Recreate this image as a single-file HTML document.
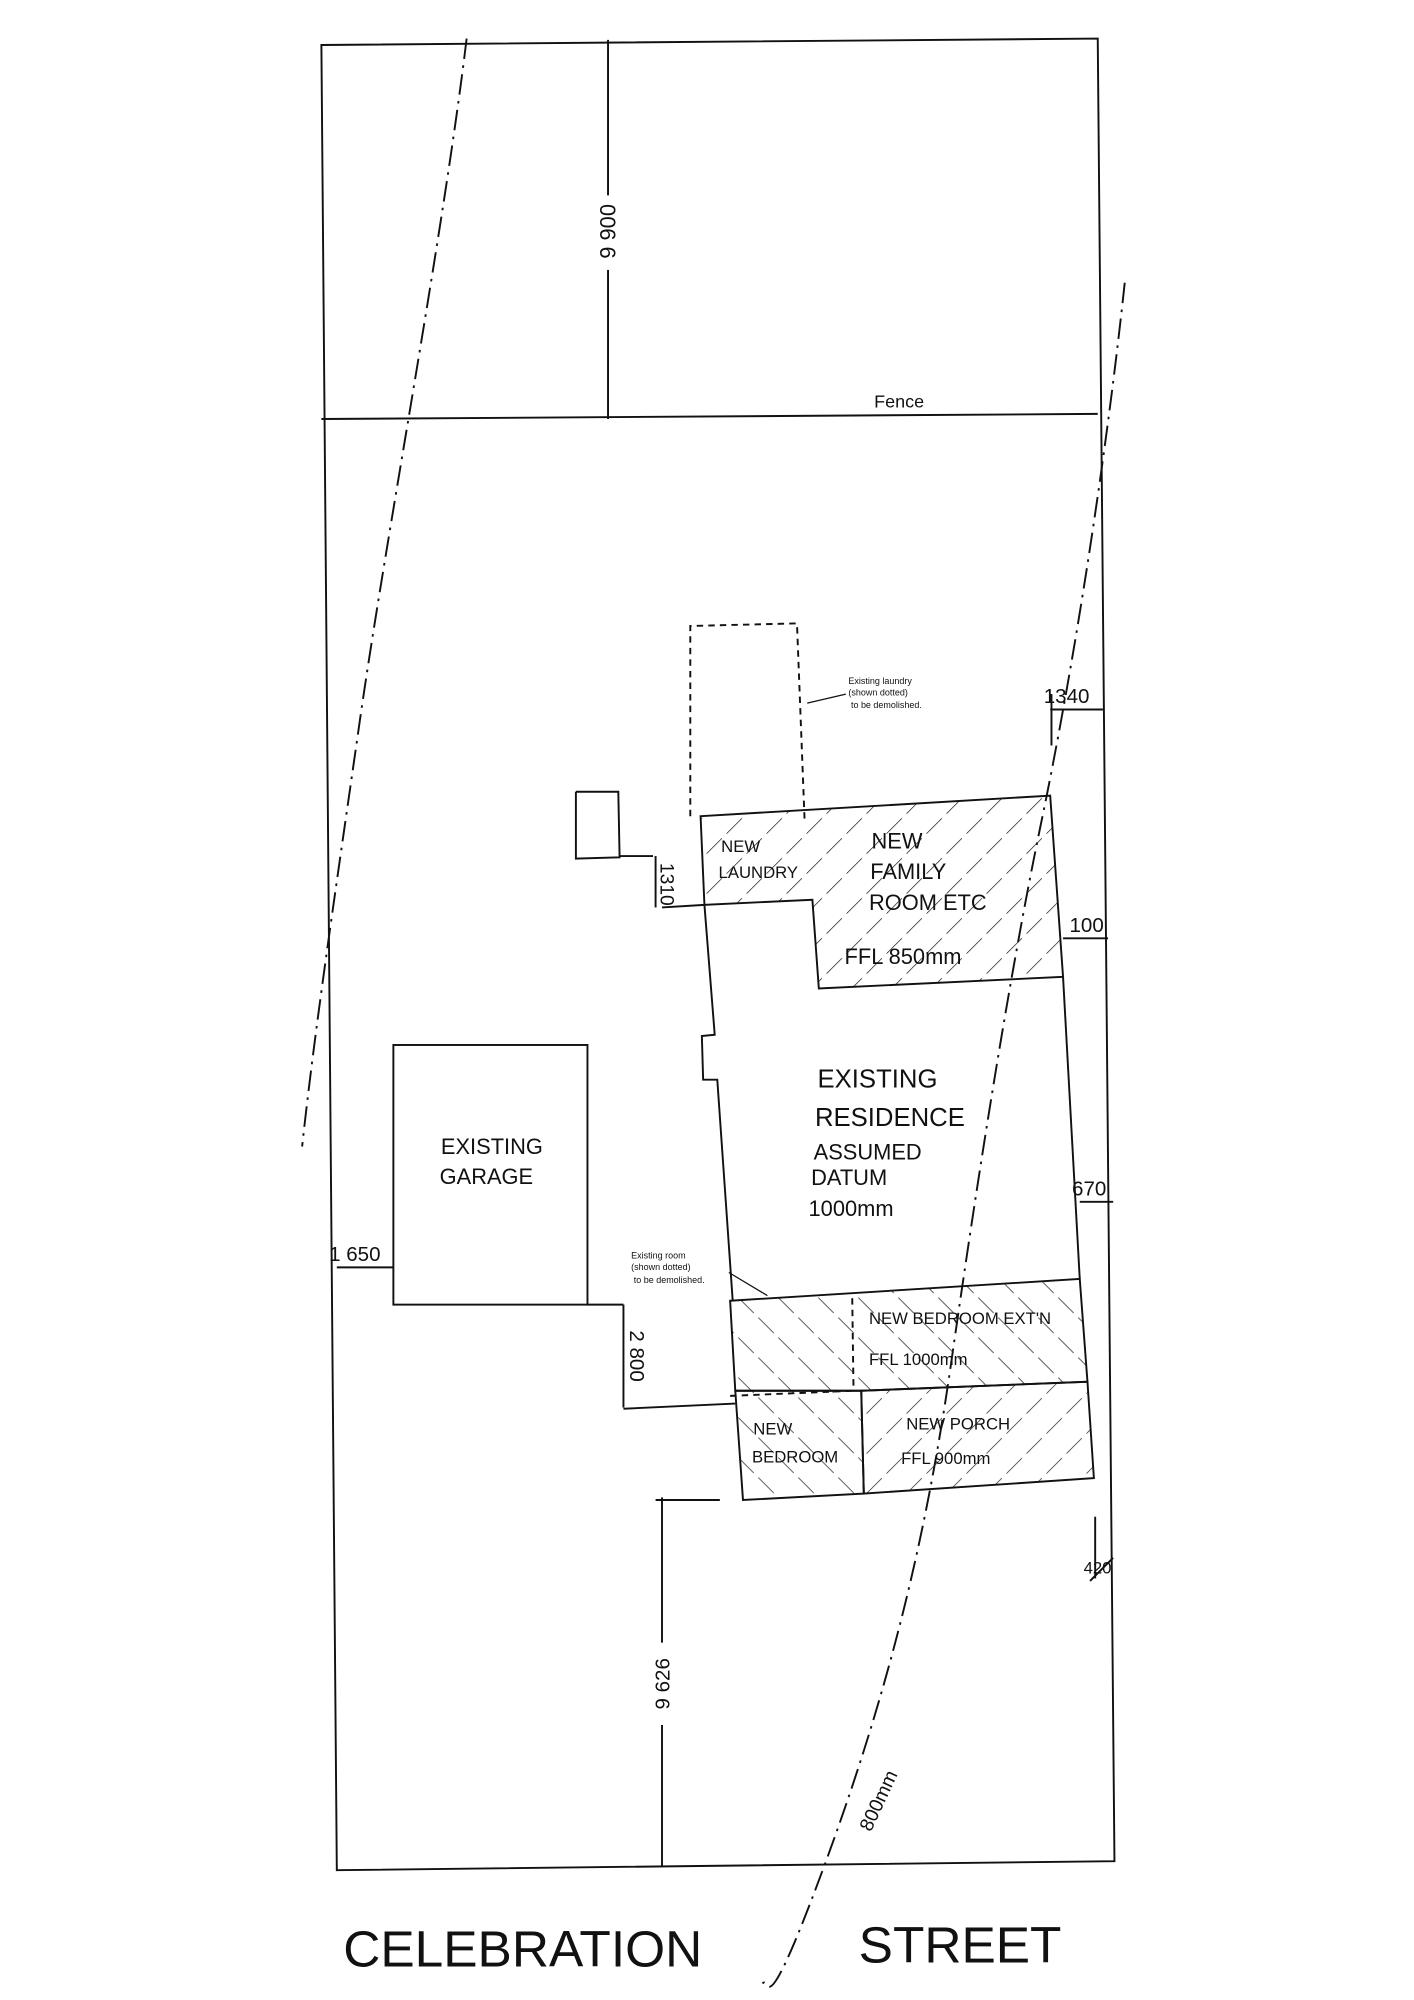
<!DOCTYPE html>
<html><head><meta charset="utf-8"><style>
html,body{margin:0;padding:0;background:#fff;}
svg{display:block;}
text{font-family:"Liberation Sans",sans-serif;fill:#111;}
</style></head><body>
<svg width="1414" height="2000" viewBox="0 0 1100 1556" xmlns="http://www.w3.org/2000/svg">
<defs>
<pattern id="hf" patternUnits="userSpaceOnUse" width="22" height="22" patternTransform="rotate(45)">
<line x1="0" y1="0" x2="0" y2="22" stroke="#222" stroke-width="1.1" stroke-dasharray="15 5"/></pattern>
<pattern id="hb" patternUnits="userSpaceOnUse" width="22" height="22" patternTransform="rotate(-45)">
<line x1="0" y1="0" x2="0" y2="22" stroke="#222" stroke-width="1.1" stroke-dasharray="15 5"/></pattern>
</defs>
<rect width="1100" height="1556" fill="#fff"/>
<g stroke="#111" stroke-width="1.5" fill="none">
<polygon points="250,35 854,30 867,1448 262,1455"/>
<line x1="250" y1="326" x2="854" y2="322"/>
<line x1="473" y1="31" x2="473" y2="326"/>
<path d="M363,30 C345,180 300,420 280,560 S245,800 235,892" stroke-dasharray="16 5 2 5"/>
<path d="M875,220 C860,360 835,520 810,640 S760,920 740,1060 S690,1320 640,1455 S600,1530 592,1545" stroke-dasharray="16 5 2 5"/>
<polyline points="537,635 537,487 620,485 626,640" stroke-dasharray="5 4"/>
<line x1="658" y1="540" x2="628" y2="547" stroke-width="1"/>
<polyline points="448,616 481,616 482,667 448,668 448,616"/>
<line x1="482" y1="666" x2="508" y2="666"/>
<line x1="510" y1="666" x2="510" y2="706"/>
<polygon points="545,635 817,619 827,760 637,769 632,700 548,704" fill="url(#hf)"/>
<polygon points="568,1012 840,995 846,1075 670,1082 572,1082" fill="url(#hb)"/>
<polygon points="572,1082 670,1082 672,1162 578,1167" fill="url(#hb)"/>
<polygon points="670,1082 846,1075 851,1150 672,1162" fill="url(#hf)"/>
<line x1="515" y1="706" x2="548" y2="704"/>
<polyline points="548,704 556,805 546,806 547,840 558,840 570,1012"/>
<line x1="827" y1="760" x2="840" y2="995"/>
<line x1="663" y1="1010" x2="664" y2="1082" stroke-dasharray="5 4"/>
<line x1="568" y1="1086" x2="664" y2="1082" stroke-dasharray="5 4"/>
<line x1="567" y1="990" x2="597" y2="1008" stroke-width="1"/>
<rect x="306" y="813" width="151" height="202"/>
<line x1="262" y1="986" x2="306" y2="986"/>
<line x1="457" y1="1015" x2="485" y2="1015"/>
<line x1="485" y1="1015" x2="485" y2="1095"/>
<line x1="485" y1="1096" x2="572" y2="1092"/>
<line x1="515" y1="1165" x2="515" y2="1452"/>
<line x1="510" y1="1167" x2="560" y2="1167"/>
<line x1="817" y1="552" x2="858" y2="552"/>
<line x1="818" y1="540" x2="818" y2="580"/>
<line x1="827" y1="730" x2="862" y2="730"/>
<line x1="840" y1="935" x2="866" y2="935"/>
<line x1="852" y1="1180" x2="852" y2="1228"/>
<line x1="848" y1="1230" x2="866" y2="1212"/>
</g>
<rect x="465" y="152" width="16" height="58" fill="#fff"/>
<rect x="507" y="1278" width="16" height="64" fill="#fff"/>
<g font-size="16">
<text x="680" y="317" font-size="14">Fence</text>
<text transform="translate(479,180) rotate(-90)" text-anchor="middle" font-size="17">9 900</text>
<text x="660" y="532" font-size="7">Existing laundry</text>
<text x="660" y="541" font-size="7">(shown dotted)</text>
<text x="662" y="551" font-size="7">to be demolished.</text>
<text transform="translate(514,688) rotate(90)" text-anchor="middle" font-size="15">1310</text>
<text x="561" y="663" font-size="13">NEW</text>
<text x="559" y="683" font-size="13">LAUNDRY</text>
<text x="678" y="660" font-size="17">NEW</text>
<text x="677" y="684" font-size="17">FAMILY</text>
<text x="676" y="708" font-size="17">ROOM ETC</text>
<text x="657" y="750" font-size="17">FFL 850mm</text>
<text x="636" y="846" font-size="20">EXISTING</text>
<text x="634" y="876" font-size="20">RESIDENCE</text>
<text x="633" y="902" font-size="17">ASSUMED</text>
<text x="631" y="922" font-size="17">DATUM</text>
<text x="629" y="946" font-size="17">1000mm</text>
<text x="343" y="898" font-size="17">EXISTING</text>
<text x="342" y="921" font-size="17">GARAGE</text>
<text x="256" y="981" font-size="16">1 650</text>
<text x="491" y="979" font-size="7">Existing room</text>
<text x="491" y="988" font-size="7">(shown dotted)</text>
<text x="493" y="998" font-size="7">to be demolished.</text>
<text transform="translate(490,1055) rotate(90)" text-anchor="middle" font-size="16">2 800</text>
<text x="676" y="1030" font-size="13">NEW BEDROOM EXT'N</text>
<text x="676" y="1062" font-size="13">FFL 1000mm</text>
<text x="586" y="1116" font-size="13">NEW</text>
<text x="585" y="1138" font-size="13">BEDROOM</text>
<text x="705" y="1112" font-size="13">NEW PORCH</text>
<text x="701" y="1139" font-size="13">FFL 900mm</text>
<text x="812" y="547" font-size="16">1340</text>
<text x="832" y="725" font-size="16">100</text>
<text x="834" y="930" font-size="16">670</text>
<text x="843" y="1224" font-size="13">420</text>
<text transform="translate(521,1310) rotate(-90)" text-anchor="middle" font-size="16">9 626</text>
<text transform="translate(688,1403) rotate(-65)" text-anchor="middle" font-size="15">800mm</text>
<text x="267" y="1530" font-size="40">CELEBRATION</text>
<text x="668" y="1527" font-size="40">STREET</text>
</g>
</svg>
</body></html>
